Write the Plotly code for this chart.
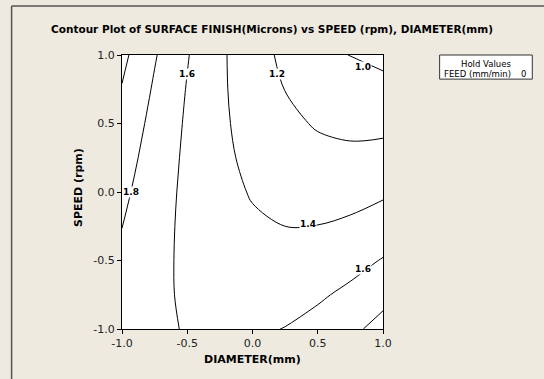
import plotly.graph_objects as go

# Grid coordinates (DIAMETER on x, SPEED on y)
diameter = [-1.0, -0.75, -0.5, -0.25, 0.0, 0.25, 0.5, 0.75, 1.0]
speed = [-1.0, -0.75, -0.5, -0.25, 0.0, 0.25, 0.5, 0.75, 1.0]

# SURFACE FINISH (Microns), rows = speed, cols = diameter
surface_finish = [
    [1.714, 1.637, 1.588, 1.566, 1.572, 1.605, 1.666, 1.754, 1.870],
    [1.738, 1.642, 1.573, 1.532, 1.518, 1.532, 1.573, 1.642, 1.738],
    [1.768, 1.652, 1.564, 1.503, 1.470, 1.464, 1.485, 1.535, 1.611],
    [1.802, 1.667, 1.559, 1.479, 1.426, 1.400, 1.403, 1.432, 1.489],
    [1.842, 1.687, 1.559, 1.459, 1.387, 1.342, 1.325, 1.335, 1.373],
    [1.886, 1.712, 1.565, 1.445, 1.353, 1.289, 1.252, 1.243, 1.261],
    [1.935, 1.741, 1.575, 1.436, 1.325, 1.241, 1.184, 1.155, 1.154],
    [1.990, 1.776, 1.590, 1.432, 1.301, 1.197, 1.121, 1.073, 1.052],
    [2.049, 1.816, 1.611, 1.433, 1.282, 1.159, 1.064, 0.995, 0.955],
]

tick_vals = [-1.0, -0.5, 0.0, 0.5, 1.0]
tick_text = ["-1.0", "-0.5", "0.0", "0.5", "1.0"]

contour_labels = ["1.8", "1.6", "1.2", "1.0", "1.4", "1.6"]
label_x = [-0.93, -0.503, 0.19, 0.847, 0.427, 0.847]
label_y = [0.0, 0.859, 0.859, 0.91, -0.236, -0.564]

hold_name = "FEED (mm/min)"
hold_value = "0"

BG = "#EEEAE0"
FONT = "DejaVu Sans"

fig = go.Figure()
fig.add_trace(go.Contour(
    x=diameter, y=speed, z=surface_finish,
    contours=dict(start=1.0, end=2.0, size=0.2, coloring="none", showlabels=False),
    line=dict(color="black", width=1, smoothing=1.0),
    showscale=False, hoverinfo="skip",
))

annotations = []
for t, lx, ly in zip(contour_labels, label_x, label_y):
    annotations.append(dict(
        x=lx, y=ly, xref="x", yref="y", text="<b>%s</b>" % t, showarrow=False,
        font=dict(family=FONT, size=9, color="black"), bgcolor="white", borderpad=0,
    ))

# axis titles
annotations.append(dict(
    x=0.5, y=-0.113, xref="paper", yref="paper", text="<b>DIAMETER(mm)</b>",
    showarrow=False, font=dict(family=FONT, size=11, color="black"),
    xanchor="center", yanchor="middle",
))
annotations.append(dict(
    x=-0.166, y=0.517, xref="paper", yref="paper", text="<b>SPEED (rpm)</b>",
    showarrow=False, font=dict(family=FONT, size=11, color="black"), textangle=-90,
    xanchor="center", yanchor="middle",
))

# hold values box
annotations.append(dict(
    x=1.395, y=0.967, xref="paper", yref="paper", text="Hold Values",
    showarrow=False, font=dict(family=FONT, size=8.5, color="black"),
    xanchor="center", yanchor="middle",
))
annotations.append(dict(
    x=1.227, y=0.93, xref="paper", yref="paper", text=hold_name,
    showarrow=False, font=dict(family=FONT, size=8.5, color="black"),
    xanchor="left", yanchor="middle",
))
annotations.append(dict(
    x=1.557, y=0.93, xref="paper", yref="paper", text=hold_value,
    showarrow=False, font=dict(family=FONT, size=8.5, color="black"),
    xanchor="right", yanchor="middle",
))

shapes = [
    dict(type="rect", xref="paper", yref="paper", x0=1.217, x1=1.572, y0=0.912, y1=1.0,
         line=dict(color="#333333", width=1), fillcolor="white", layer="above"),
    dict(type="line", xref="paper", yref="paper", x0=-0.423, x1=-0.423, y0=-0.3, y1=1.179,
         line=dict(color="#555555", width=1.5)),
    dict(type="line", xref="paper", yref="paper", x0=-0.423, x1=1.7, y0=1.179, y1=1.179,
         line=dict(color="#555555", width=1.5)),
]

axis_common = dict(
    range=[-1, 1], tickvals=tick_vals, ticktext=tick_text, ticks="outside", ticklen=4,
    tickcolor="black", showline=True, linecolor="black", linewidth=1, mirror=True,
    showgrid=False, zeroline=False, tickfont=dict(family=FONT, size=11, color="#222222"),
)

fig.update_layout(
    width=544, height=379,
    margin=dict(l=122, r=161, t=55, b=50),
    paper_bgcolor=BG, plot_bgcolor="white",
    title=dict(text="<b>Contour Plot of SURFACE FINISH(Microns) vs SPEED (rpm), DIAMETER(mm)</b>",
               x=0.5, xanchor="center", y=0.923, yanchor="middle",
               font=dict(family=FONT, size=10.5, color="black")),
    xaxis=dict(**axis_common),
    yaxis=dict(**axis_common),
    annotations=annotations, shapes=shapes, showlegend=False,
)

fig.write_html("out.html", config={"displayModeBar": False},
               post_script="document.body.style.margin='0';document.body.style.overflow='hidden';")
